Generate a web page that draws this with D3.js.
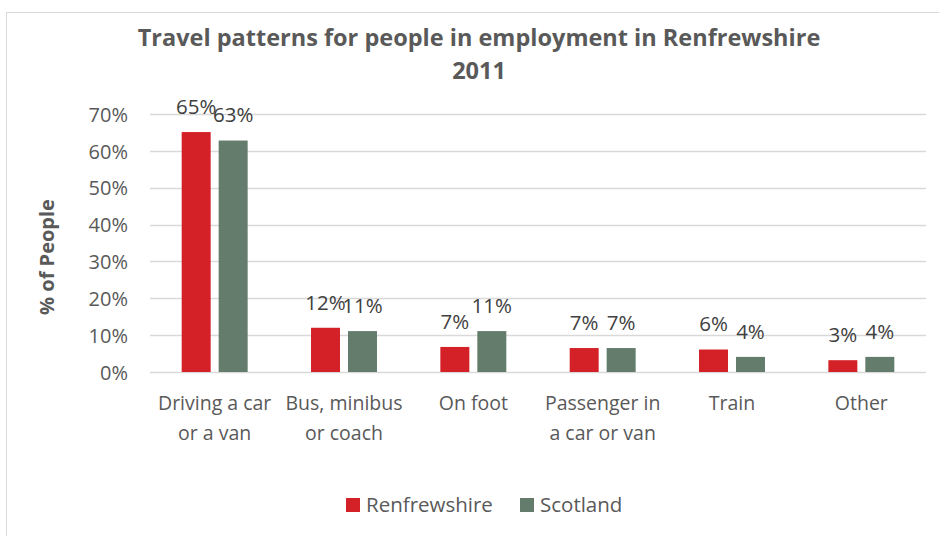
<!DOCTYPE html>
<html>
<head>
<meta charset="utf-8">
<script src="https://cdn.jsdelivr.net/npm/d3@7"></script>
<style>
  html, body { margin: 0; padding: 0; background: #fff; }
  svg { display: block; }
</style>
</head>
<body>
<svg id="chart" width="939" height="536"></svg>
<script>
// Travel-to-work mode shares, 2011 census
const categories = [
  "Driving a car\nor a van",
  "Bus, minibus\nor coach",
  "On foot",
  "Passenger in\na car or van",
  "Train",
  "Other"
];
const series = ["Renfrewshire", "Scotland"];
const renfrewshire = [65.1, 12.0, 6.8, 6.5, 6.1, 3.2];
const scotland = [62.8, 11.1, 11.1, 6.5, 4.1, 4.1];
const yTicks = [0, 10, 20, 30, 40, 50, 60, 70];
const colors = ["#d42027", "#647c6c"];

const titleLines = ["Travel patterns for people in employment in Renfrewshire", "2011"];
const yTitle = "% of People";

const svg = d3.select("#chart");
const textGrey = "#595959";
const font = "'Open Sans', 'DejaVu Sans', sans-serif";

svg.append("rect").attr("width", 939).attr("height", 536).attr("fill", "#fff");
// chart frame
svg.append("rect")
  .attr("x", 6.5).attr("y", 12.5)
  .attr("width", 946).attr("height", 540)
  .attr("fill", "none").attr("stroke", "#d9d9d9").attr("stroke-width", 1);

const plot = { left: 150, right: 926, top: 114, bottom: 372 };

const x0 = d3.scaleBand().domain(categories).range([plot.left, plot.right]).padding(0);
const groupW = x0.bandwidth() * 0.51;
const x1 = d3.scaleBand().domain(series).range([0, groupW]).paddingInner(0.216).paddingOuter(0);
const y = d3.scaleLinear().domain([0, 70]).range([plot.bottom, plot.top]);

// gridlines
svg.append("g").selectAll("line").data(yTicks).join("line")
  .attr("x1", plot.left).attr("x2", plot.right)
  .attr("y1", d => Math.round(y(d)) + 0.5).attr("y2", d => Math.round(y(d)) + 0.5)
  .attr("stroke", "#d9d9d9").attr("stroke-width", 1.3);

// y axis labels
const yAxis = d3.axisLeft(y).tickValues(yTicks).tickFormat(d => d + "%").tickSize(0).tickPadding(0);
const yg = svg.append("g").attr("transform", `translate(128,0)`).call(yAxis);
yg.select(".domain").remove();
yg.selectAll("text")
  .attr("font-family", font).attr("font-size", 20).attr("fill", textGrey).attr("dy", "0.36em");

// y title
svg.append("text")
  .attr("transform", `translate(54,257) rotate(-90)`)
  .attr("text-anchor", "middle")
  .attr("font-family", font).attr("font-weight", "bold").attr("font-size", 20)
  .attr("fill", textGrey).text(yTitle);

// bars
const rows = categories.map((c, i) => ({ cat: c, vals: [renfrewshire[i], scotland[i]] }));
const groups = svg.append("g").selectAll("g").data(rows).join("g")
  .attr("transform", d => `translate(${x0(d.cat) + (x0.bandwidth() - groupW) / 2},0)`);

groups.selectAll("rect").data(d => d.vals.map((v, j) => ({ s: series[j], v, j }))).join("rect")
  .attr("x", d => x1(d.s)).attr("width", x1.bandwidth())
  .attr("y", d => y(d.v)).attr("height", d => y(0) - y(d.v))
  .attr("fill", d => colors[d.j]);

groups.selectAll("text").data(d => d.vals.map((v, j) => ({ s: series[j], v, j }))).join("text")
  .attr("x", d => x1(d.s) + x1.bandwidth() / 2)
  .attr("y", d => y(d.v) - 25.5)
  .attr("dy", "0.36em")
  .attr("text-anchor", "middle")
  .attr("font-family", font).attr("font-size", 20.5).attr("fill", "#404040")
  .text(d => Math.round(d.v) + "%");

// category axis
const xAxis = d3.axisBottom(x0).tickSize(0).tickFormat("");
const xg = svg.append("g").attr("transform", `translate(0,${plot.bottom})`).call(xAxis);
xg.select(".domain").remove();
xg.selectAll(".tick").each(function(d) {
  const t = d3.select(this).append("text")
    .attr("text-anchor", "middle")
    .attr("font-family", font).attr("font-size", 19.5).attr("fill", textGrey);
  d.split("\n").forEach((line, k) => {
    t.append("tspan").attr("x", 0).attr("y", 31 + k * 30).attr("dy", "0.36em").text(line);
  });
});

// title
const title = svg.append("text")
  .attr("text-anchor", "middle")
  .attr("font-family", font).attr("font-weight", "bold").attr("font-size", 23.5)
  .attr("fill", textGrey);
titleLines.forEach((line, k) => {
  title.append("tspan").attr("x", 479).attr("y", 38 + k * 33).attr("dy", "0.36em").text(line);
});

// legend
const legendItems = [{ s: series[0], x: 346 }, { s: series[1], x: 520 }];
const lg = svg.append("g").selectAll("g").data(legendItems).join("g")
  .attr("transform", d => `translate(${d.x},498)`);
lg.append("rect").attr("width", 14).attr("height", 14).attr("fill", (d, i) => colors[i]);
lg.append("text").attr("x", 20).attr("y", 7).attr("dy", "0.36em")
  .attr("font-family", font).attr("font-size", 20.5).attr("fill", textGrey)
  .text(d => d.s);
</script>
</body>
</html>
